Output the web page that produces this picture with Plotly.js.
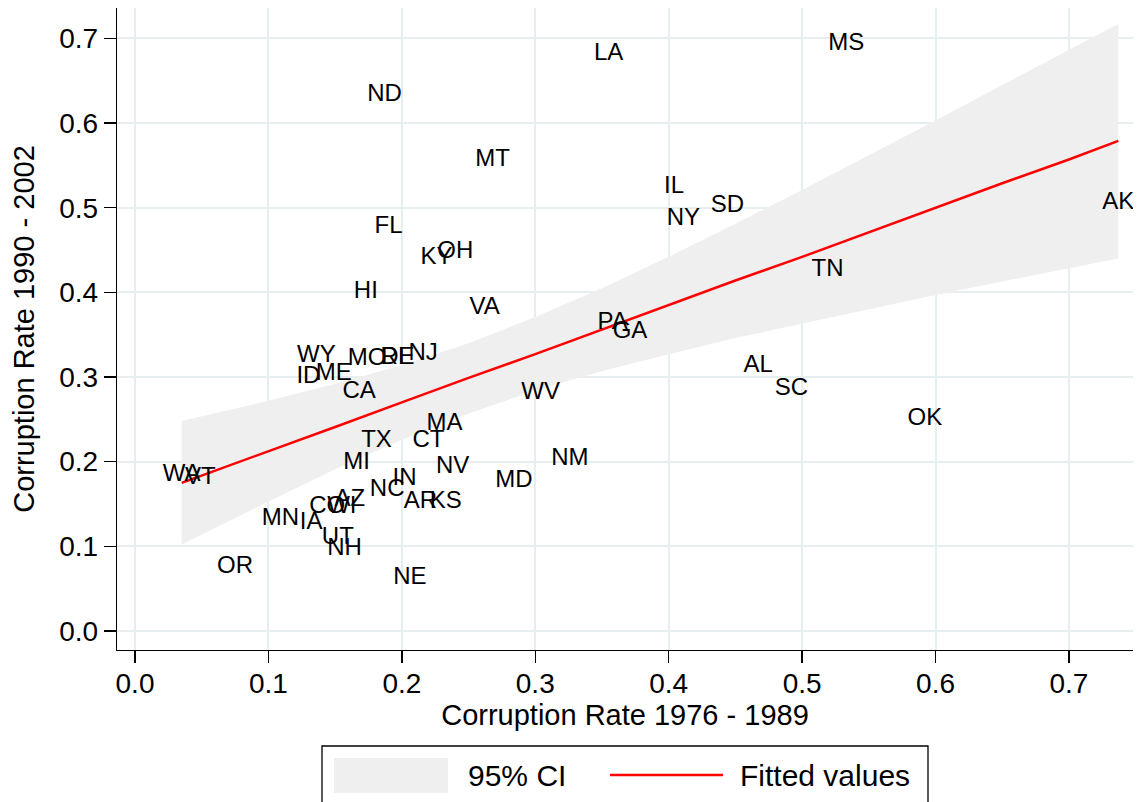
<!DOCTYPE html>
<html>
<head>
<meta charset="utf-8">
<script src="https://cdn.plot.ly/plotly-3.0.1.min.js"></script>
<style>html,body{margin:0;padding:0;background:#fff;overflow:hidden;}#chart{width:1139px;height:802px;}</style>
</head>
<body>
<div id="chart"></div>
<script>
// State labels and corruption rates
const states = ["MS","LA","ND","MT","IL","SD","NY","AK","FL","OH","KY","TN","HI","VA","PA","GA",
  "WY","MO","RI","DE","NJ","ID","ME","CA","AL","SC","OK","WV","MA","TX","CT","NM","MI","NV",
  "IN","MD","NC","AR","KS","AZ","CO","WI","MN","IA","UT","NH","OR","NE","WA","VT"];
const rate7689 = [0.533,0.355,0.187,0.268,0.404,0.444,0.411,0.737,0.190,0.240,0.226,0.519,0.173,0.262,0.358,0.371,
  0.136,0.174,0.193,0.197,0.216,0.130,0.149,0.168,0.467,0.492,0.592,0.304,0.232,0.181,0.220,0.326,0.166,0.238,
  0.202,0.284,0.189,0.214,0.233,0.161,0.144,0.155,0.109,0.132,0.152,0.157,0.075,0.206,0.035,0.049];
const rate9002 = [0.694,0.682,0.633,0.557,0.525,0.502,0.487,0.506,0.477,0.448,0.441,0.427,0.400,0.382,0.364,0.353,
  0.325,0.321,0.323,0.323,0.327,0.300,0.303,0.282,0.313,0.286,0.250,0.281,0.244,0.224,0.224,0.203,0.199,0.194,
  0.180,0.177,0.166,0.152,0.152,0.155,0.146,0.146,0.132,0.128,0.110,0.097,0.075,0.062,0.184,0.181];

// Fitted line and 95% CI band
const fitX   = [0.035,0.1,0.15,0.2,0.25,0.3,0.35,0.4,0.45,0.5,0.55,0.6,0.65,0.7,0.737];
const fitY   = [0.175,0.212,0.241,0.270,0.299,0.327,0.356,0.385,0.414,0.442,0.471,0.500,0.529,0.557,0.579];
const ciUp   = [0.248,0.272,0.292,0.314,0.340,0.371,0.405,0.442,0.481,0.521,0.562,0.603,0.645,0.686,0.717];
const ciLow  = [0.102,0.153,0.191,0.226,0.257,0.284,0.307,0.327,0.346,0.363,0.380,0.397,0.413,0.429,0.440];

const xTicks = [0,0.1,0.2,0.3,0.4,0.5,0.6,0.7];
const yTicks = [0,0.1,0.2,0.3,0.4,0.5,0.6,0.7];
const legendNames = ["95% CI", "Fitted values"];

const FONT = "Liberation Sans, Arial, Helvetica, sans-serif";
const CI_FILL = "#efefef";
const FIT_COLOR = "#ff0000";

const traces = [
  {x: fitX, y: ciLow, mode: "lines", line: {width: 0, color: CI_FILL}, showlegend: false, hoverinfo: "skip"},
  {x: fitX, y: ciUp, mode: "lines", fill: "tonexty", fillcolor: CI_FILL, line: {width: 0, color: CI_FILL}, name: legendNames[0], showlegend: false},
  {x: fitX, y: fitY, mode: "lines", line: {color: FIT_COLOR, width: 2.5}, name: legendNames[1], showlegend: false},
  {x: rate7689, y: rate9002, text: states, mode: "text", textposition: "middle center",
   textfont: {family: FONT, size: 24, color: "#000"}, showlegend: false}
];

const axisCommon = {
  showline: true, linecolor: "#000", linewidth: 1.3,
  ticks: "outside", ticklen: 12, tickcolor: "#000", tickwidth: 1.3,
  showgrid: true, gridcolor: "#e6eef0", gridwidth: 2,
  zeroline: false, tickformat: ".1f",
  tickfont: {family: FONT, size: 28, color: "#000"}
};

// Legend drawn in paper coordinates (plot area: x 117..1133, y 8..650 px)
const L = 117, W = 1016, B = 650, H = 642;
const px = v => (v - L) / W;
const py = v => (B - v) / H;

const layout = {
  width: 1139, height: 802,
  margin: {l: 117, r: 6, t: 8, b: 152},
  paper_bgcolor: "#fff", plot_bgcolor: "#fff",
  font: {family: FONT, color: "#000"},
  showlegend: false,
  xaxis: Object.assign({}, axisCommon, {
    range: [-0.0135, 0.748], tickvals: xTicks, ticklabelstandoff: -4,
    title: {text: "Corruption Rate 1976 - 1989", font: {family: FONT, size: 29, color: "#000"}, standoff: 0}
  }),
  yaxis: Object.assign({}, axisCommon, {
    range: [-0.0225, 0.736], tickvals: yTicks,
    title: {text: "Corruption Rate 1990 - 2002", font: {family: FONT, size: 29, color: "#000"}, standoff: 16}
  }),
  shapes: [
    {type: "rect", xref: "paper", yref: "paper", x0: px(322), x1: px(928), y0: py(746), y1: py(830),
     line: {color: "#000", width: 1.3}, fillcolor: "#fff", layer: "above"},
    {type: "rect", xref: "paper", yref: "paper", x0: px(334), x1: px(448), y0: py(758), y1: py(793),
     line: {width: 0}, fillcolor: CI_FILL, layer: "above"},
    {type: "line", xref: "paper", yref: "paper", x0: px(610), x1: px(723), y0: py(775), y1: py(775),
     line: {color: FIT_COLOR, width: 2.5}, layer: "above"}
  ],
  annotations: [
    {xref: "paper", yref: "paper", x: px(466), y: py(775), xanchor: "left", yanchor: "middle",
     text: legendNames[0], showarrow: false, font: {family: FONT, size: 30, color: "#000"}},
    {xref: "paper", yref: "paper", x: px(738), y: py(775), xanchor: "left", yanchor: "middle",
     text: legendNames[1], showarrow: false, font: {family: FONT, size: 30, color: "#000"}}
  ]
};

Plotly.newPlot("chart", traces, layout, {displayModeBar: false, staticPlot: true});
</script>
</body>
</html>
